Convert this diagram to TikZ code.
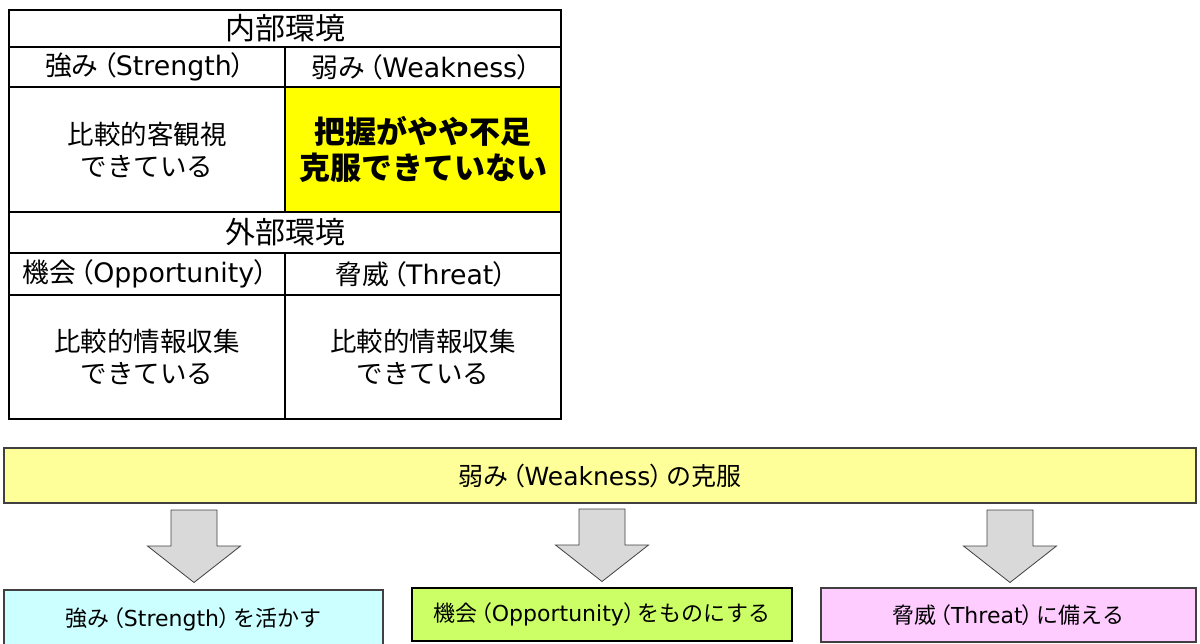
\documentclass[tikz,border=0pt]{standalone}
\usepackage{fontspec}
\setmainfont{Noto Sans CJK JP}
\newfontfamily\latin{DejaVu Sans}
\newcommand\mylp{\kern-.32em（\kern-.04em}
\newcommand\myrp{\kern-.04em）\kern-.32em}
\definecolor{cellyellow}{HTML}{FFFF00}
\definecolor{banneryellow}{HTML}{FFFF99}
\definecolor{boxcyan}{HTML}{CCFFFF}
\definecolor{boxgreen}{HTML}{CCFF66}
\definecolor{boxpink}{HTML}{FFCCFF}
\definecolor{arrowgray}{HTML}{D9D9D9}
\definecolor{edgegray}{HTML}{404040}
\tikzset{
  cell/.style={draw=black, line width=2.6pt, inner sep=0pt, outer sep=0pt, align=center},
  hdr/.style={cell, font=\fontsize{30}{34}\selectfont},
  sub/.style={cell, font=\fontsize{26.8}{30}\selectfont},
  body/.style={cell, font=\fontsize{26.5}{32}\selectfont},
  hot/.style={cell, fill=cellyellow, font=\fontsize{31}{36}\selectfont\bfseries},
  banner/.style={draw=edgegray, line width=1.3pt, fill=banneryellow, inner sep=0pt, font=\fontsize{25}{28}\selectfont},
  outbox/.style={draw=edgegray, line width=1.3pt, inner sep=0pt, font=\fontsize{22}{26}\selectfont},
  blockarrow/.style={draw=edgegray, line width=0.8pt, fill=arrowgray, line join=miter}
}
\begin{document}
\begin{tikzpicture}[x=1pt,y=-1pt]
\useasboundingbox (0,0) rectangle (1200,644);
% --- table ---
\node[hdr, minimum width=552pt, minimum height=37pt] (int) at (285,28.5) {内部環境};
\node[sub, minimum width=276pt, minimum height=40pt] (str) at (147,67) {\raisebox{-3pt}{強み\mylp{\latin Strength}\myrp}};
\node[sub, minimum width=276pt, minimum height=40pt] (weak) at (423,67) {\raisebox{-3pt}{弱み\mylp{\latin Weakness}\myrp}};
\node[body, minimum width=276pt, minimum height=125pt] (strc) at (147,149.5) {比較的客観視\\できている};
\node[hot, minimum width=276pt, minimum height=125pt] (weakc) at (423,149.5) {把握がやや不足\\克服できていない};
\node[hdr, minimum width=552pt, minimum height=41pt] (ext) at (285,232.5) {外部環境};
\node[sub, minimum width=276pt, minimum height=42pt] (opp) at (147,274) {\raisebox{-2pt}{機会\mylp{\latin Opportunity}\myrp}};
\node[sub, minimum width=276pt, minimum height=42pt] (thr) at (423,274) {\raisebox{-2pt}{脅威\mylp{\latin Threat}\myrp}};
\node[body, minimum width=276pt, minimum height=124pt] (oppc) at (147,357) {比較的情報収集\\できている};
\node[body, minimum width=276pt, minimum height=124pt] (thrc) at (423,357) {比較的情報収集\\できている};
% --- banner ---
\node[banner, minimum width=1192pt, minimum height=55pt] (ban) at (600,475.5) {弱み\mylp{\latin Weakness}\myrp の克服};
% --- result boxes ---
\node[outbox, fill=boxcyan, minimum width=379pt, minimum height=58pt] (bs) at (193.5,619) {強み\mylp{\latin Strength}\myrp を活かす};
\node[outbox, fill=boxgreen, draw=black, line width=2pt, minimum width=380pt, minimum height=53pt] (bo) at (602,614.5) {機会\mylp{\latin Opportunity}\myrp をものにする};
\node[outbox, fill=boxpink, minimum width=375pt, minimum height=54pt] (bt) at (1008.5,615) {脅威\mylp{\latin Threat}\myrp に備える};
% --- block arrows ---
\coordinate (a1) at (194,510);
\coordinate (a2) at (602,509);
\coordinate (a3) at (1010,510);
\foreach \a in {a1,a2,a3}{
  \draw[blockarrow] (\a) ++(-23,0) -- ++(46,0) -- ++(0,36) -- ++(23.5,0) -- ++(-46.5,36.5) -- ++(-46.5,-36.5) -- ++(23.5,0) -- cycle;
}
\end{tikzpicture}
\end{document}
